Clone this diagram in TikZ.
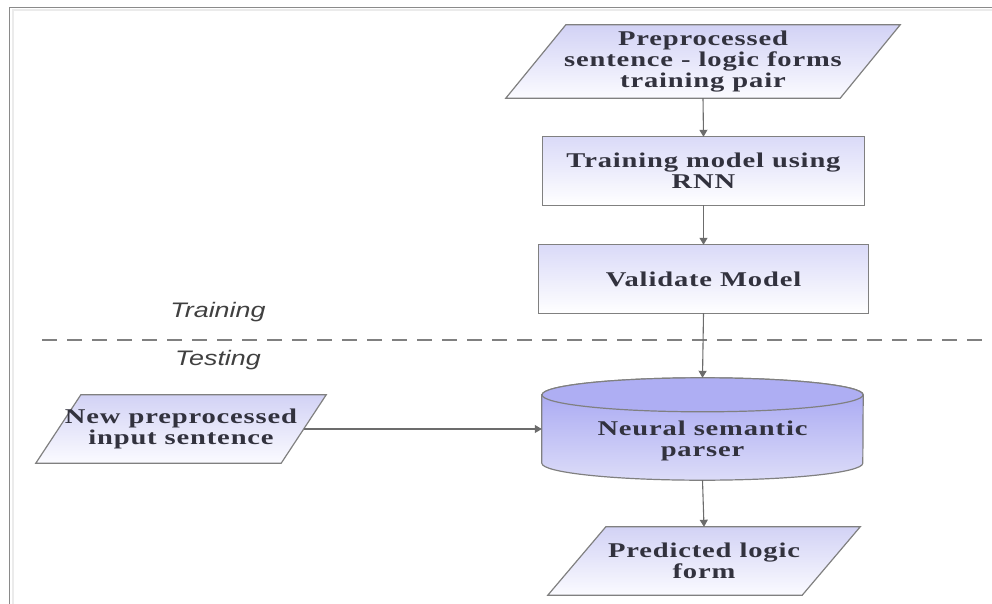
\documentclass[tikz,border=0pt]{standalone}
\usepackage{fontspec}
\setmainfont{Liberation Serif}
\newfontfamily\boxfont[FakeStretch=1.36,LetterSpace=4]{Liberation Serif}
\newfontfamily\phasefont[FakeStretch=1.28]{Liberation Sans}
\usetikzlibrary{arrows.meta,backgrounds}

\definecolor{edge}{HTML}{808080}
\definecolor{linkgray}{HTML}{6C6C6C}
\definecolor{inkdark}{HTML}{32323E}
\definecolor{paraTop}{HTML}{D2D2F5}
\definecolor{paraBot}{HTML}{FBFBFF}
\definecolor{boxTop}{HTML}{DADAF8}
\definecolor{boxBot}{HTML}{FFFFFF}
\definecolor{cylTop}{HTML}{A2A2F2}
\definecolor{cylBot}{HTML}{DCDCF8}
\definecolor{cylCap}{HTML}{AEAEF3}
\definecolor{frame}{HTML}{8A8A8A}

\tikzset{
  shapebox/.style={inner sep=0pt, align=center, text=inkdark,
    font=\boxfont\bfseries\fontsize{21}{21}\selectfont},
  phase/.style={inner sep=0pt, text=black!75,
    font=\phasefont\itshape\fontsize{21}{21}\selectfont},
  link/.style={draw=linkgray, line width=1.1pt,
    -{Triangle[length=7pt,width=8pt]}},
  outline/.style={draw=edge, line width=1.2pt},
}

% parallelogram around a named rectangle node: #1 node, #2 horizontal slant
\newcommand\slantbox[2]{%
  \shade[outline, top color=paraTop, bottom color=paraBot]
    ([xshift=#2/2]#1.north west) -- ([xshift=#2/2]#1.north east) --
    ([xshift=-#2/2]#1.south east) -- ([xshift=-#2/2]#1.south west) -- cycle;}

% plain box around a named rectangle node
\newcommand\flatbox[1]{%
  \shade[outline, top color=boxTop, bottom color=boxBot]
    (#1.north west) rectangle (#1.south east);}

\begin{document}
\begin{tikzpicture}[x=1pt, y=-1pt]
\useasboundingbox (0,0) rectangle (992,604);

% page frame (top and left edges)
\draw[frame, line width=1.6pt] (992,7.5) -- (9.5,7.5) -- (9.5,604);
\draw[black!8, line width=2pt] (992,10) -- (12.5,10) -- (12.5,604);

% nodes
\node[shapebox, minimum width=334pt, minimum height=73pt] (pairs) at (703,61.5)
  {Preprocessed\\sentence - logic forms\\training pair};
\node[shapebox, minimum width=321pt, minimum height=68pt] (train) at (703.5,171)
  {Training model using\\RNN};
\node[shapebox, minimum width=329pt, minimum height=68pt] (valid) at (703.5,279)
  {Validate Model};
\node[inner sep=0pt, minimum width=321pt, minimum height=102pt] (parser) at (702.5,429) {};
\node[shapebox] (parserText) at (702.5,441) {Neural semantic\\parser};
\node[shapebox, minimum width=245pt, minimum height=68pt] (newin) at (181,429)
  {New preprocessed\\input sentence};
\node[shapebox, minimum width=254pt, minimum height=68pt] (pred) at (704,561)
  {Predicted logic\\form};

\node[phase] (trainLbl) at (218,312) {Training};
\node[phase] (testLbl) at (218,360) {Testing};

\begin{scope}[on background layer]
  \slantbox{pairs}{60}
  \flatbox{train}
  \flatbox{valid}
  \slantbox{newin}{45}
  \slantbox{pred}{58}
  % cylinder body and lid
  \shade[outline, top color=cylTop, bottom color=cylBot]
    ([yshift=-17pt]parser.north west) -- ([yshift=17pt]parser.south west)
    arc[start angle=180, end angle=360, x radius=160.5pt, y radius=17pt]
    -- ([yshift=-17pt]parser.north east)
    arc[start angle=0, end angle=180, x radius=160.5pt, y radius=17pt] -- cycle;
  \draw[outline, fill=cylCap] ([yshift=-17pt]parser.north)
    ellipse[x radius=160.5pt, y radius=17pt];
  % training / testing divider
  \draw[edge, line width=1.3pt, dash pattern=on 15pt off 10pt] (42,340) -- (990,340);
\end{scope}

% connectors
\draw[link] (pairs.south) -- (train.north);
\draw[link] (train.south) -- (valid.north);
\draw[link] (valid.south) -- (parser.north);
\draw[link] (newin.east) -- (parser.west);
\draw[link] (parser.south) -- (pred.north);
\end{tikzpicture}
\end{document}
